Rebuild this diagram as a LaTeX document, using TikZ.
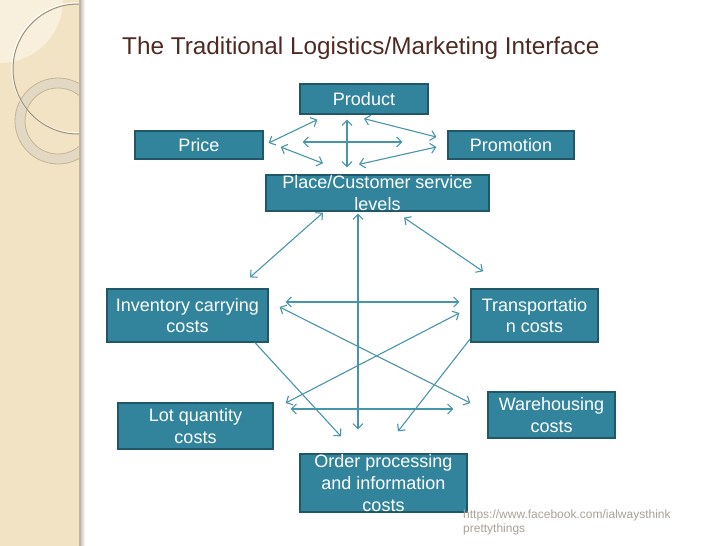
\documentclass[tikz,border=0pt]{standalone}
\usepackage{fontspec}
\setmainfont{Liberation Sans}
\usepackage{xcolor}
\usetikzlibrary{arrows.meta}
\usetikzlibrary{calc}
\definecolor{boxfill}{HTML}{31849B}
\definecolor{boxline}{HTML}{205867}
\definecolor{linkcol}{HTML}{4795A9}
\definecolor{titlecol}{HTML}{4F2A22}
\definecolor{bandcol}{HTML}{F2E3C4}
\definecolor{bandpale}{HTML}{F8EFDC}
\definecolor{ringcol}{HTML}{E3D8C3}
\definecolor{ringedge}{HTML}{C5B597}
\definecolor{markcol}{HTML}{A9A197}
\tikzset{
    boite/.style = {rectangle, draw=boxline, fill=boxfill, line width=1.3pt, inner sep=0pt},
    boitetexte/.style = {text=white, align=center, inner sep=0pt,
        font=\fontsize{18}{21.6}\selectfont},
    lien/.style = {draw=linkcol, line width=1.1pt},
    >={Straight Barb[length=5pt,width=10pt]}
}

\begin{document}
\begin{tikzpicture}[x=1pt, y=-1pt]
    \useasboundingbox (0,0) rectangle (728,546);
    % bande de gauche
    \fill[bandcol] (0,0) rectangle (80,546);
    \begin{scope}
        \clip (0,0) rectangle (80,546);
        \fill[bandpale] (0,0) circle (63);
        \draw[ringcol, line width=10pt] (58,121) circle (38);
        \draw[ringedge, line width=0.8pt] (58,121) circle (43) (58,121) circle (33);
        \draw[white, line width=1.2pt] (77,68) circle (65);
        \draw[ringedge!80!black, line width=1pt] (78,69) circle (65);
    \end{scope}
    \shade[left color=black!25, right color=white] (80,0) rectangle (85,546);
    \draw[ringedge, line width=1.2pt] (80,0) -- (80,546);

    \node (titre) [anchor=base west, text=titlecol, inner sep=0pt,
        font=\fontsize{24.3}{28}\selectfont] at (122,54)
        {The Traditional Logistics/Marketing Interface};

    \node (product) [boite, minimum width=128, minimum height=30,
        label={[boitetexte]center:Product}] at (364,99) {};
    \node (price) [boite, minimum width=128, minimum height=28,
        label={[boitetexte]center:Price}] at (199,145) {};
    \node (promotion) [boite, minimum width=126, minimum height=28,
        label={[boitetexte]center:Promotion}] at (511,145) {};
    \node (place) [boite, minimum width=223, minimum height=36,
        label={[boitetexte]center:{Place/Customer service\\levels}}] at (377.5,193) {};
    \node (inventory) [boite, minimum width=161, minimum height=53,
        label={[boitetexte]center:{Inventory carrying\\costs}}] at (187.5,315.5) {};
    \node (transport) [boite, minimum width=127, minimum height=53,
        label={[boitetexte]center:{Transportatio\\n costs}}] at (534.5,315.5) {};
    \node (lot) [boite, minimum width=155, minimum height=46,
        label={[boitetexte]center:{Lot quantity\\costs}}] at (195.5,426) {};
    \node (warehouse) [boite, minimum width=127, minimum height=46,
        label={[boitetexte]center:{Warehousing\\costs}}] at (551.5,415) {};
    \node (order) [boite, minimum width=167, minimum height=58,
        label={[boitetexte]center:{Order processing\\and information\\costs}}] at (383.5,483) {};

    \node (source) [anchor=north west, text=markcol, align=left, inner sep=0pt,
        font=\fontsize{12}{14}\selectfont] at (463,510)
        {https://www.facebook.com/ialwaysthink\\prettythings};

    % marketing
    \draw[lien, <->] ($(price.east)+(5,-2)$) -- ($(product.south west)+(18,5)$);
    \draw[lien, <->] ($(product.south)+(-17,5)$) -- ($(place.north)+(-30.5,-7)$);
    \draw[lien, <->] ($(product.south)+(0,4)$) -- ($(promotion.west)+(-11,-8)$);
    \draw[lien, <->] ($(price.east)+(39,-3)$) -- ($(promotion.west)+(-45,-3)$);
    \draw[lien, <->] ($(price.east)+(17,2)$) -- ($(place.north)+(-54.5,-11)$);
    \draw[lien, <->] ($(promotion.west)+(-11,2)$) -- ($(place.north)+(-18.5,-10)$);
    % place vers logistique
    \draw[lien, <->] ($(place.south)+(-54.5,1)$) -- ($(inventory.north)+(62.5,-11)$);
    \draw[lien, <->] ($(place.south)+(-19.5,2)$) -- ($(order.north)+(-25.5,-24)$);
    \draw[lien, <->] ($(place.south)+(26.5,6)$) -- ($(transport.north)+(-51.5,-17)$);
    % logistique
    \draw[lien, <->] ($(inventory.east)+(17,-13.5)$) -- ($(transport.west)+(-11,-13.5)$);
    \draw[lien, <->] ($(inventory.east)+(11,-8.5)$) -- ($(warehouse.west)+(-17,-12)$);
    \draw[lien, <->] ($(transport.west)+(-11,-2.5)$) -- ($(lot.east)+(12,-23)$);
    \draw[lien, <->] ($(lot.east)+(17,-17)$) -- ($(warehouse.west)+(-34,-6)$);
    \draw[lien, ->] ($(inventory.south)+(67.5,0)$) -- ($(order.north)+(-42.5,-17)$);
    \draw[lien, ->] ($(transport.south west)+(0,-4)$) -- ($(order.north)+(14.5,-22)$);
\end{tikzpicture}
\end{document}
